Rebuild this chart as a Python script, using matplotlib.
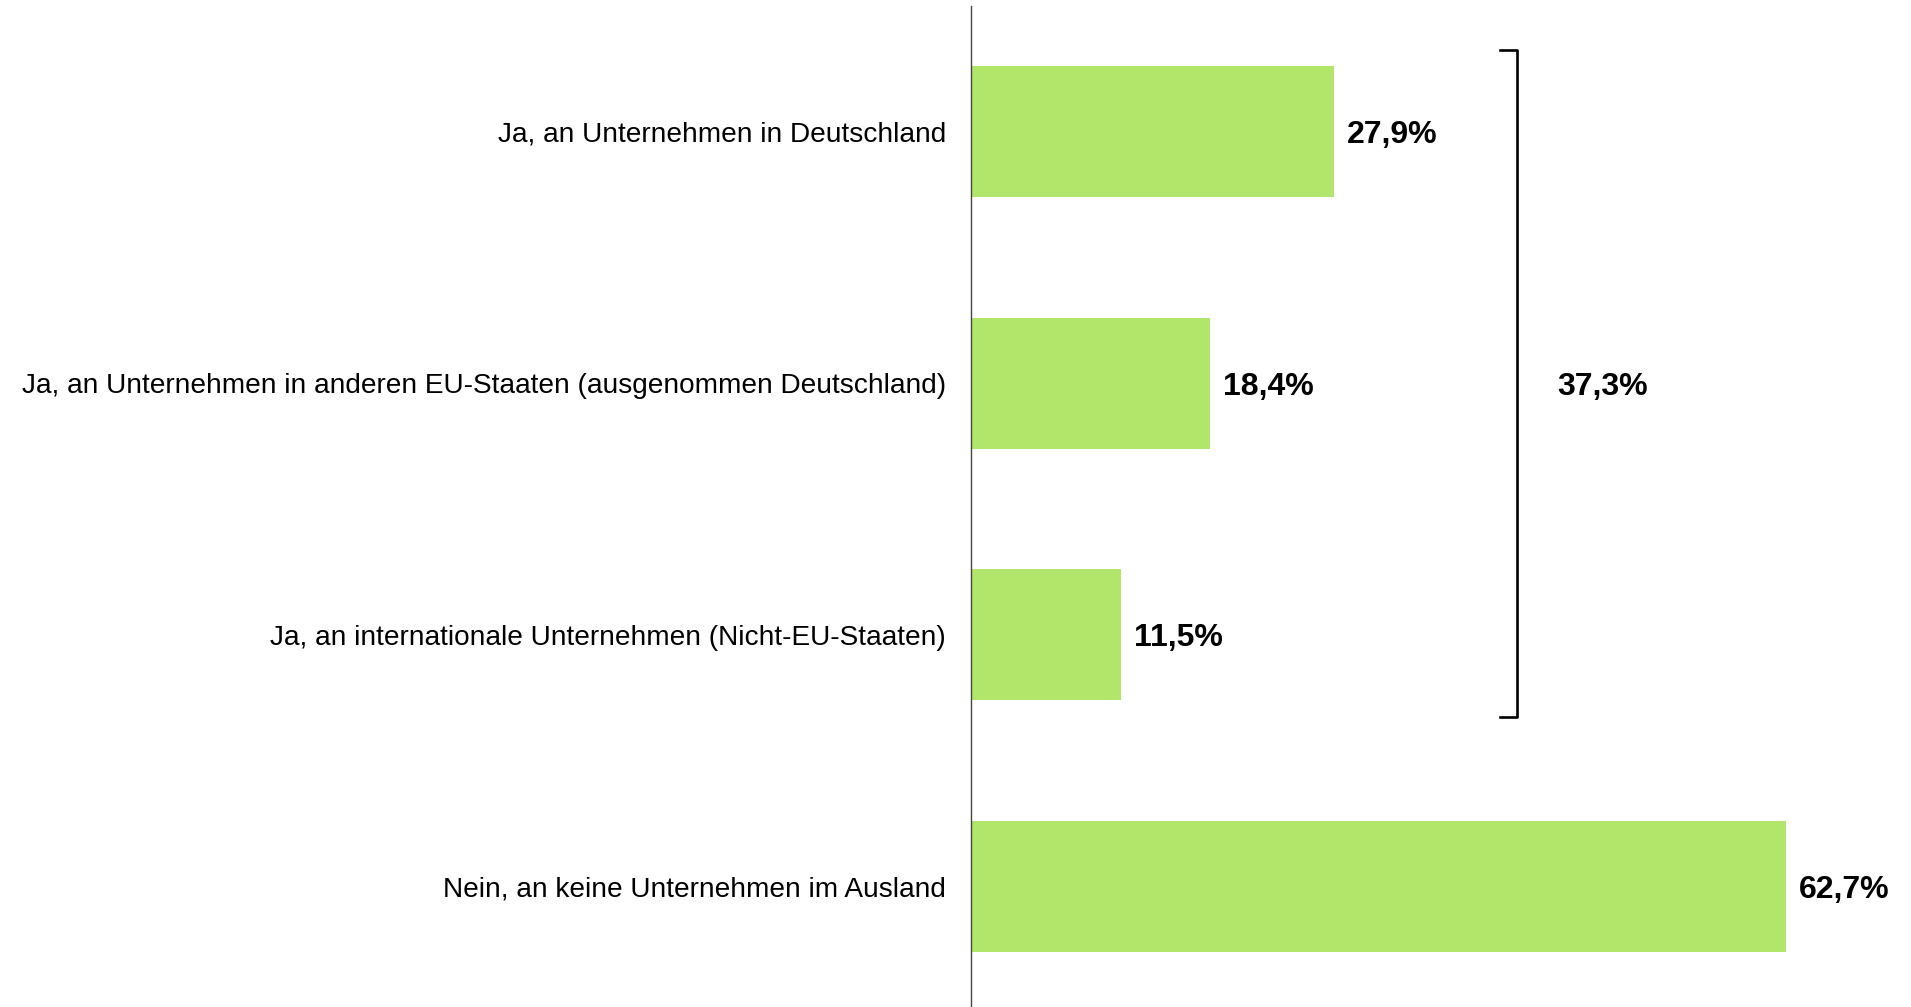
import matplotlib
matplotlib.use('Agg')
import matplotlib.pyplot as plt

categories = [
    'Ja, an Unternehmen in Deutschland',
    'Ja, an Unternehmen in anderen EU-Staaten (ausgenommen Deutschland)',
    'Ja, an internationale Unternehmen (Nicht-EU-Staaten)',
    'Nein, an keine Unternehmen im Ausland',
]
values = [27.9, 18.4, 11.5, 62.7]
bracket_total = 37.3
bracket_rows = (0, 2)  # bracket spans the "Ja" rows

BAR_COLOR = '#b2e66a'

plt.rcParams['font.family'] = ['Liberation Sans', 'DejaVu Sans']

fig = plt.figure(figsize=(19.11, 10.07), dpi=100, facecolor='white')
ax = fig.add_axes([971 / 1911, 0, 940 / 1911, 1 - 6 / 1007])

ypos = list(range(len(values)))
ax.barh(ypos, values, height=0.52, color=BAR_COLOR)

ax.set_xlim(0, 72.3)
ax.set_ylim(3.48, -0.5)

for y, v in zip(ypos, values):
    ax.text(v + 1.0, y, f'{v:.1f}%'.replace('.', ','), ha='left',
            va='center_baseline', fontsize=23, fontweight='bold', color='black')

# bracket over the "Ja" answers
bx = 42.0
y0 = bracket_rows[0] - 0.326
y1 = bracket_rows[1] + 0.328
ax.plot([bx - 1.3, bx, bx, bx - 1.3], [y0, y0, y1, y1], color='black',
        lw=1.9, solid_joinstyle='round', clip_on=False)
ax.text(bx + 3.1, (bracket_rows[0] + bracket_rows[1]) / 2,
        f'{bracket_total:.1f}%'.replace('.', ','), ha='left',
        va='center_baseline', fontsize=23, fontweight='bold', color='black')

ax.set_yticks(ypos)
ax.set_yticklabels(categories, fontsize=20.2)
ax.tick_params(axis='y', length=0, pad=18)
ax.set_xticks([])

for s in ['top', 'right', 'bottom']:
    ax.spines[s].set_visible(False)
ax.spines['left'].set_color('#444444')
ax.spines['left'].set_linewidth(1.0)

fig.savefig('out.png', dpi=100, facecolor='white')
